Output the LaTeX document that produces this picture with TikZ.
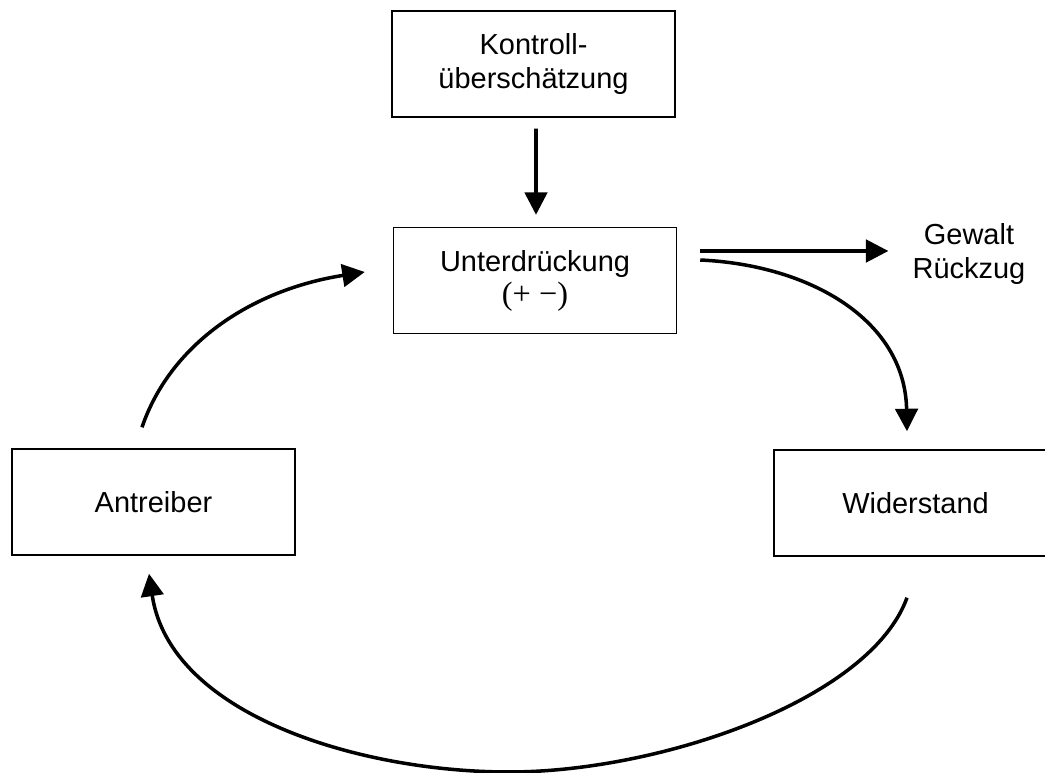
\documentclass[tikz,border=0pt]{standalone}
\usepackage{fontspec}
\setmainfont{Liberation Sans}
\newfontfamily\timesfont{Liberation Serif}
\usepackage{tikz}
\usetikzlibrary{arrows.meta,calc}

\begin{document}
\begin{tikzpicture}[x=0.025cm, y=-0.025cm,
    box/.style={draw, line width=1pt, minimum width=7.075cm, minimum height=2.65cm, align=center, inner sep=0pt},
    pfeil/.style={-{Triangle[length=16pt,width=16pt]}, line width=2.5pt},
    every node/.style={font=\fontsize{20.6}{23.5}\selectfont}]
	\useasboundingbox (0,0) rectangle (1045,773);
	\node[box] (kontroll) at (533.5,64) {Kontroll-\\überschätzung};
	\node[box] (unter) at (535,280.5) {Unterdrückung\\{\timesfont\fontsize{23}{25}\selectfont(+ −)}};
	\node[box] (antreiber) at (153.5,502) {Antreiber};
	\node[box] (widerstand) at (915.5,503) {Widerstand};
	\node[align=center, inner sep=0pt] (gewalt) at (969,254) {Gewalt\\Rückzug};
	\draw[pfeil] ($(kontroll.south)+(2.5,11)$) -- ($(unter.north)+(1,-12)$);
	\draw[pfeil] ($(unter.east)+(23,-29.5)$) -- ($(gewalt.west)+(-24,-3)$);
	\draw[pfeil] ($(unter.east)+(23,-20.5)$) .. controls (810,265) and (905,320) .. ($(widerstand.north)+(-8.5,-18)$);
	\draw[pfeil] ($(antreiber.north)+(-11.5,-21)$) .. controls (170,345) and (250,290) .. ($(unter.west)+(-28,-8.5)$);
	\draw[pfeil] ($(widerstand.south)+(-8.5,41)$) .. controls (870,700) and (660,772) .. (509,772)
		.. controls (360,772) and (170,715) .. ($(antreiber.south)+(-4.5,18)$);
\end{tikzpicture}
\end{document}
